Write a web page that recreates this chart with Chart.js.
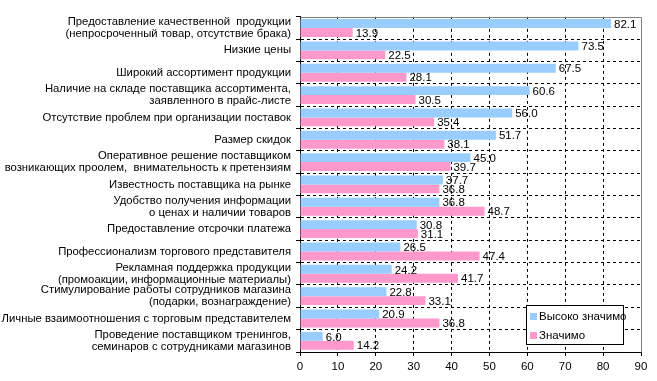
<!DOCTYPE html>
<html>
<head>
<meta charset="utf-8">
<script src="https://cdn.jsdelivr.net/npm/chart.js@4/dist/chart.umd.min.js"></script>
<style>
html,body{margin:0;padding:0;background:#fff;}
canvas{display:block;}
</style>
</head>
<body>
<canvas id="c" width="657" height="381"></canvas>
<script>
const categories = [
  ["Предоставление качественной  продукции", "(непросроченный товар, отсутствие брака)"],
  "Низкие цены",
  "Широкий ассортимент продукции",
  ["Наличие на складе поставщика ассортимента,", "заявленного в прайс-листе"],
  "Отсутствие проблем при организации поставок",
  "Размер скидок",
  ["Оперативное решение поставщиком", "возникающих проолем,  внимательность к претензиям"],
  "Известность поставщика на рынке",
  ["Удобство получения информации", "о ценах и наличии товаров"],
  "Предоставление отсрочки платежа",
  "Профессионализм торгового представителя",
  ["Рекламная поддержка продукции", "(промоакции, информационные материалы)"],
  ["Стимулирование работы сотрудников магазина", "(подарки, вознаграждение)"],
  "Личные взаимоотношения с торговым представителем",
  ["Проведение поставщиком тренингов,", "семинаров с сотрудниками магазинов"]
];
const seriesNames = ["Высоко значимо", "Значимо"];
const highValues = [82.1, 73.5, 67.5, 60.6, 56.0, 51.7, 45.0, 37.7, 36.8, 30.8, 26.5, 24.2, 22.8, 20.9, 6.0];
const midValues = [13.9, 22.5, 28.1, 30.5, 35.4, 38.1, 39.7, 36.8, 48.7, 31.1, 47.4, 41.7, 33.1, 36.8, 14.2];
const xTicks = [0, 10, 20, 30, 40, 50, 60, 70, 80, 90];
const colors = ["#99CCFF", "#FF99CC"];

const FONT = "'Liberation Sans', Arial, sans-serif";
const FS = 11.3;
Chart.defaults.font.family = FONT;
Chart.defaults.font.size = FS;
Chart.defaults.color = "#000";

const labelPlugin = {
  id: "vals",
  afterDatasetsDraw(chart) {
    const ctx = chart.ctx;
    ctx.save();
    ctx.font = "11.5px " + FONT;
    ctx.fillStyle = "#000";
    ctx.textBaseline = "middle";
    ctx.textAlign = "left";
    chart.data.datasets.forEach((ds, di) => {
      chart.getDatasetMeta(di).data.forEach((bar, i) => {
        ctx.fillText(ds.data[i].toFixed(1), bar.x + 3, bar.y + 1);
      });
    });
    ctx.restore();
  }
};

const framePlugin = {
  id: "frame",
  afterDraw(chart) {
    const a = chart.chartArea;
    const ctx = chart.ctx;
    ctx.save();
    ctx.strokeStyle = "#808080";
    ctx.lineWidth = 1;
    ctx.beginPath();
    ctx.moveTo(Math.round(a.left) + 0.5, Math.round(a.top) + 0.5);
    ctx.lineTo(Math.round(a.right) + 0.5, Math.round(a.top) + 0.5);
    ctx.lineTo(Math.round(a.right) + 0.5, Math.round(a.bottom) + 0.5);
    ctx.stroke();
    // legend
    const lx = 526, ly = 305, lw = 97, lh = 39;
    ctx.fillStyle = "#fff";
    ctx.fillRect(lx, ly, lw, lh);
    ctx.strokeStyle = "#000";
    ctx.strokeRect(lx + 0.5, ly + 0.5, lw, lh);
    ctx.font = "11.5px " + FONT;
    ctx.textBaseline = "middle";
    ctx.textAlign = "left";
    chart.data.datasets.forEach((ds, i) => {
      const y = ly + 8 + i * 19;
      ctx.fillStyle = ds.backgroundColor;
      ctx.fillRect(lx + 4, y, 7, 7);
      ctx.fillStyle = "#000";
      ctx.fillText(ds.label, lx + 13, y + 4);
    });
    ctx.restore();
  }
};

new Chart(document.getElementById("c"), {
  type: "bar",
  data: {
    labels: categories,
    datasets: [
      { label: seriesNames[0], data: highValues, backgroundColor: colors[0], barPercentage: 1.0, categoryPercentage: 0.8 },
      { label: seriesNames[1], data: midValues, backgroundColor: colors[1], barPercentage: 1.0, categoryPercentage: 0.8 }
    ]
  },
  options: {
    indexAxis: "y",
    responsive: false,
    animation: false,
    layout: { padding: { top: 14, right: 16, left: 0, bottom: 0 } },
    plugins: { legend: { display: false }, tooltip: { enabled: false } },
    scales: {
      x: {
        min: xTicks[0],
        max: xTicks[xTicks.length - 1],
        afterBuildTicks(scale) { scale.ticks = xTicks.map(v => ({ value: v })); },
        afterFit(scale) { scale.height = 29; },
        ticks: { color: "#000", padding: 4, autoSkip: false, maxRotation: 0, font: { size: 11.5 } },
        grid: {
          color: (c) => (c.index === 0 || c.index === xTicks.length - 1) ? "rgba(0,0,0,0)" : "#000",
          tickColor: "#000",
          tickLength: 4,
          tickBorderDash: []
        },
        border: { display: true, color: "#000", width: 1, dash: [3, 3] }
      },
      y: {
        afterFit(scale) { scale.width = 300; },
        ticks: { color: "#000", padding: 5, autoSkip: false, font: { size: FS, lineHeight: 1.05 } },
        grid: {
          offset: true,
          color: (c) => (c.index === 0 || c.index === categories.length) ? "rgba(0,0,0,0)" : "#000",
          tickColor: "#000",
          tickLength: 4,
          tickBorderDash: []
        },
        border: { display: true, color: "#000", width: 1, dash: [3, 3] }
      }
    }
  },
  plugins: [labelPlugin, framePlugin]
});
</script>
</body>
</html>
